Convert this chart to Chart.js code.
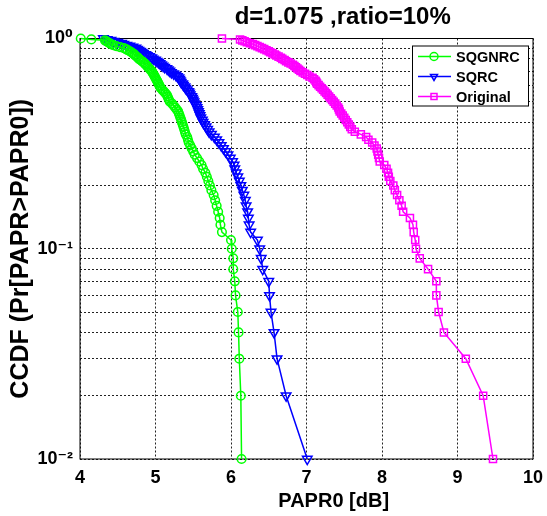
<!DOCTYPE html>
<html>
<head>
<meta charset="utf-8">
<script src="https://cdn.jsdelivr.net/npm/chart.js"></script>
<style>
  body { margin: 0; background: #fff; }
  #wrap { width: 547px; height: 516px; }
</style>
</head>
<body>
<div id="wrap"><canvas id="chart-ccdf"></canvas></div>
<script>
// CCDF levels (100 samples)
const prob = [
  1.00, 0.99, 0.98, 0.97, 0.96, 0.95, 0.94, 0.93, 0.92, 0.91,
  0.90, 0.89, 0.88, 0.87, 0.86, 0.85, 0.84, 0.83, 0.82, 0.81,
  0.80, 0.79, 0.78, 0.77, 0.76, 0.75, 0.74, 0.73, 0.72, 0.71,
  0.70, 0.69, 0.68, 0.67, 0.66, 0.65, 0.64, 0.63, 0.62, 0.61,
  0.60, 0.59, 0.58, 0.57, 0.56, 0.55, 0.54, 0.53, 0.52, 0.51,
  0.50, 0.49, 0.48, 0.47, 0.46, 0.45, 0.44, 0.43, 0.42, 0.41,
  0.40, 0.39, 0.38, 0.37, 0.36, 0.35, 0.34, 0.33, 0.32, 0.31,
  0.30, 0.29, 0.28, 0.27, 0.26, 0.25, 0.24, 0.23, 0.22, 0.21,
  0.20, 0.19, 0.18, 0.17, 0.16, 0.15, 0.14, 0.13, 0.12, 0.11,
  0.10, 0.09, 0.08, 0.07, 0.06, 0.05, 0.04, 0.03, 0.02, 0.01,
];

// PAPR0 [dB] at each level
const paprSQGNRC = [
  4.01, 4.15, 4.33, 4.35, 4.37, 4.39, 4.41, 4.44, 4.48, 4.53,
  4.58, 4.61, 4.63, 4.66, 4.68, 4.70, 4.72, 4.73, 4.75, 4.77,
  4.78, 4.80, 4.82, 4.84, 4.86, 4.87, 4.89, 4.90, 4.92, 4.93,
  4.95, 4.96, 4.97, 4.98, 4.99, 5.00, 5.01, 5.02, 5.03, 5.04,
  5.05, 5.06, 5.07, 5.09, 5.11, 5.13, 5.15, 5.16, 5.17, 5.18,
  5.19, 5.22, 5.24, 5.26, 5.28, 5.30, 5.31, 5.32, 5.33, 5.34,
  5.35, 5.36, 5.37, 5.38, 5.39, 5.40, 5.42, 5.43, 5.44, 5.46,
  5.48, 5.50, 5.52, 5.55, 5.58, 5.61, 5.63, 5.66, 5.68, 5.70,
  5.72, 5.74, 5.77, 5.79, 5.81, 5.83, 5.85, 5.86, 5.88, 6.00,
  6.01, 6.03, 6.03, 6.05, 6.06, 6.09, 6.10, 6.11, 6.13, 6.14,
];
const paprSQRC = [
  4.31, 4.36, 4.41, 4.45, 4.50, 4.55, 4.58, 4.62, 4.66, 4.70,
  4.74, 4.76, 4.78, 4.80, 4.82, 4.84, 4.87, 4.89, 4.92, 4.95,
  4.97, 5.00, 5.02, 5.04, 5.06, 5.08, 5.10, 5.12, 5.15, 5.17,
  5.19, 5.21, 5.24, 5.27, 5.29, 5.31, 5.32, 5.33, 5.34, 5.36,
  5.37, 5.39, 5.40, 5.42, 5.44, 5.45, 5.46, 5.48, 5.49, 5.50,
  5.51, 5.52, 5.54, 5.55, 5.56, 5.57, 5.58, 5.59, 5.60, 5.62,
  5.63, 5.65, 5.67, 5.69, 5.71, 5.74, 5.78, 5.81, 5.84, 5.87,
  5.90, 5.93, 5.96, 5.99, 6.02, 6.04, 6.05, 6.07, 6.09, 6.11,
  6.13, 6.15, 6.17, 6.19, 6.20, 6.22, 6.23, 6.24, 6.26, 6.35,
  6.38, 6.40, 6.42, 6.50, 6.51, 6.53, 6.57, 6.61, 6.73, 7.01,
];
const paprOriginal = [
  5.88, 6.12, 6.15, 6.18, 6.21, 6.25, 6.29, 6.32, 6.35, 6.38,
  6.41, 6.44, 6.47, 6.50, 6.52, 6.55, 6.58, 6.60, 6.63, 6.66,
  6.68, 6.71, 6.73, 6.76, 6.79, 6.82, 6.84, 6.86, 6.88, 6.90,
  6.92, 6.95, 6.98, 7.01, 7.04, 7.08, 7.10, 7.12, 7.13, 7.14,
  7.16, 7.18, 7.20, 7.22, 7.24, 7.26, 7.28, 7.30, 7.32, 7.34,
  7.36, 7.38, 7.40, 7.42, 7.43, 7.44, 7.46, 7.48, 7.50, 7.52,
  7.54, 7.56, 7.58, 7.60, 7.64, 7.72, 7.79, 7.82, 7.87, 7.90,
  7.93, 7.94, 7.95, 7.96, 7.97, 8.03, 8.06, 8.08, 8.09, 8.11,
  8.15, 8.17, 8.20, 8.23, 8.26, 8.28, 8.37, 8.41, 8.42, 8.44,
  8.45, 8.50, 8.61, 8.72, 8.72, 8.75, 8.82, 9.11, 9.34, 9.47,
];

const yTicks = [
  0.01, 0.02, 0.03, 0.04, 0.05, 0.06, 0.07, 0.08, 0.09,
  0.1, 0.2, 0.3, 0.4, 0.5, 0.6, 0.7, 0.8, 0.9, 1,
];
const yTickLabels = { 1: "10\u2070", 0.1: "10\u207B\u00B9", 0.01: "10\u207B\u00B2" };

const seriesNames = ["SQGNRC", "SQRC", "Original"];
const seriesColors = ["#00ff00", "#0000ff", "#ff00ff"];
const titleText = "d=1.075 ,ratio=10%";
const xLabel = "PAPR0 [dB]";
const yLabel = "CCDF (Pr[PAPR>PAPR0])";

const FONT = "'Liberation Sans', Arial, 'DejaVu Sans', sans-serif";

function toPoints(xs) {
  return xs.map((x, i) => ({ x: x, y: prob[i] }));
}

function drawMarker(ctx, style, x, y, r) {
  ctx.beginPath();
  if (style === "circle") {
    ctx.arc(x, y, r, 0, Math.PI * 2);
  } else if (style === "triangle") {
    ctx.moveTo(x - r * 0.87, y - r * 0.5);
    ctx.lineTo(x + r * 0.87, y - r * 0.5);
    ctx.lineTo(x, y + r);
    ctx.closePath();
  } else {
    ctx.rect(x - r * 0.75, y - r * 0.75, r * 1.5, r * 1.5);
  }
  ctx.stroke();
}

// matlab style box, title, xlabel and legend
const boxPlugin = {
  id: "boxPlugin",
  beforeDatasetsDraw(chart) {
    const a = chart.chartArea;
    const ctx = chart.ctx;
    ctx.save();
    ctx.strokeStyle = "#000";
    ctx.lineWidth = 1;
    ctx.strokeRect(a.left, a.top, a.right - a.left, a.bottom - a.top);
    ctx.restore();
  },
  afterDraw(chart) {
    const ctx = chart.ctx;
    const a = chart.chartArea;
    ctx.save();
    ctx.fillStyle = "#000";
    ctx.textAlign = "center";
    ctx.textBaseline = "middle";
    ctx.font = "bold 24px " + FONT;
    ctx.fillText(titleText, a.left + (a.right - a.left) * 0.58, 17);
    ctx.font = "bold 20px " + FONT;
    ctx.fillText(xLabel, a.left + (a.right - a.left) * 0.56, 501);

    const bx = a.right - 121, by = a.top + 7, bw = 116, bh = 60;
    ctx.fillStyle = "#fff";
    ctx.fillRect(bx, by, bw, bh);
    ctx.strokeStyle = "#000";
    ctx.lineWidth = 1;
    ctx.strokeRect(bx + 0.5, by + 0.5, bw, bh);
    const styles = ["circle", "triangle", "rect"];
    chart.data.datasets.forEach((ds, i) => {
      const ry = by + 11 + i * 20;
      ctx.strokeStyle = ds.borderColor;
      ctx.lineWidth = 1.5;
      ctx.beginPath();
      ctx.moveTo(bx + 6, ry);
      ctx.lineTo(bx + 39, ry);
      ctx.stroke();
      drawMarker(ctx, styles[i], bx + 22, ry, 4);
      ctx.fillStyle = "#000";
      ctx.font = "bold 14.5px " + FONT;
      ctx.textAlign = "left";
      ctx.fillText(ds.label, bx + 44, ry + 1);
    });
    ctx.restore();
  },
};

function createChartCCDF() {
  var ctx = document.getElementById("chart-ccdf").getContext("2d");

  new Chart(ctx, {
    type: "scatter",
    plugins: [boxPlugin],
    data: {
      datasets: [
        {
          label: seriesNames[0],
          data: toPoints(paprSQGNRC),
          showLine: true,
          borderColor: seriesColors[0],
          borderWidth: 1.5,
          pointStyle: "circle",
          pointRadius: 4.3,
          pointBorderWidth: 1.5,
          pointBorderColor: seriesColors[0],
          pointBackgroundColor: "transparent",
          clip: false,
        },
        {
          label: seriesNames[1],
          data: toPoints(paprSQRC),
          showLine: true,
          borderColor: seriesColors[1],
          borderWidth: 1.5,
          pointStyle: "triangle",
          rotation: 180,
          pointRadius: 5.5,
          pointBorderWidth: 1.5,
          pointBorderColor: seriesColors[1],
          pointBackgroundColor: "transparent",
          clip: false,
        },
        {
          label: seriesNames[2],
          data: toPoints(paprOriginal),
          showLine: true,
          borderColor: seriesColors[2],
          borderWidth: 1.5,
          pointStyle: "rect",
          pointRadius: 5,
          pointBorderWidth: 1.5,
          pointBorderColor: seriesColors[2],
          pointBackgroundColor: "transparent",
          clip: false,
        },
      ],
    },
    options: {
      responsive: true,
      maintainAspectRatio: false,
      animation: false,
      layout: {
        padding: { left: 0, right: 14, top: 38.5, bottom: 0 },
      },
      plugins: {
        legend: { display: false },
        tooltip: { enabled: false },
        title: { display: false },
      },
      scales: {
        x: {
          type: "linear",
          min: 4,
          max: 10,
          afterFit(scale) {
            scale.height = 57;
            scale.paddingLeft = 0;
            scale.paddingRight = 0;
          },
          grid: {
            color: "#222",
            lineWidth: 1,
            drawTicks: false,
          },
          border: { display: false, dash: [2, 2] },
          ticks: {
            stepSize: 1,
            padding: 8,
            color: "#000",
            font: { family: FONT, size: 18, weight: "bold" },
          },
        },
        y: {
          type: "logarithmic",
          min: 0.01,
          max: 1,
          afterFit(scale) {
            scale.width = 80;
            scale.paddingTop = 0;
            scale.paddingBottom = 0;
          },
          afterBuildTicks(scale) {
            scale.ticks = yTicks.map((v) => ({ value: v }));
          },
          grid: {
            color: "#222",
            lineWidth: 1,
            drawTicks: false,
          },
          border: { display: false, dash: [2, 2] },
          ticks: {
            autoSkip: false,
            padding: 7,
            color: "#000",
            font: { family: FONT, size: 18, weight: "bold" },
            callback: function (value) {
              return yTickLabels[value] || "";
            },
          },
          title: {
            display: true,
            text: yLabel,
            color: "#000",
            padding: { top: 6, bottom: 0 },
            font: { family: FONT, size: 25, weight: "bold", lineHeight: 1.2 },
          },
        },
      },
    },
  });
}

createChartCCDF();
</script>
</body>
</html>
